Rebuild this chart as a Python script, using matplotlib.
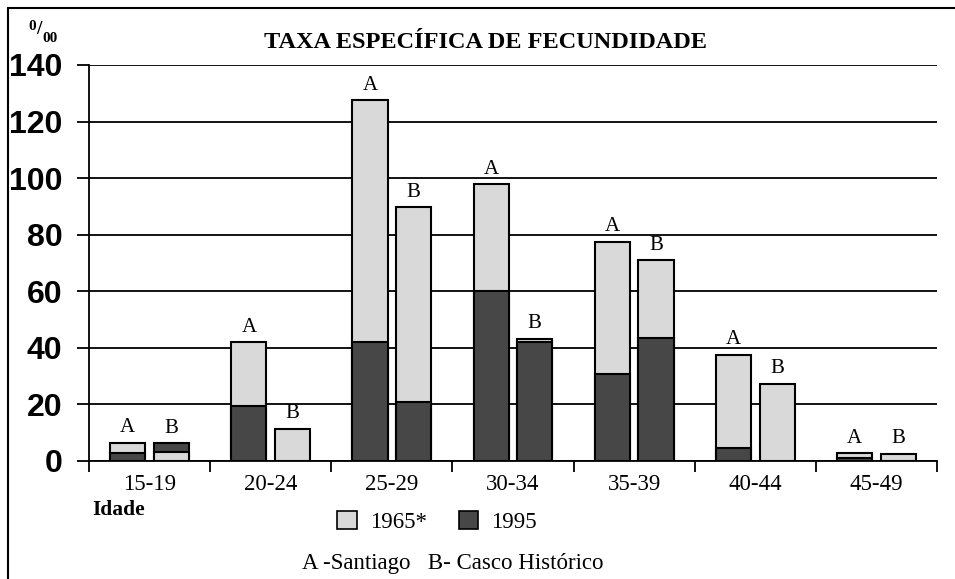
import matplotlib.pyplot as plt
from matplotlib.patches import Patch, Rectangle

# age groups
groups = ['15-19', '20-24', '25-29', '30-34', '35-39', '40-44', '45-49']

# A - Santiago
a_1965 = [6.5, 42, 127.5, 97.8, 77.5, 37.5, 2.8]
a_1995 = [2.9, 19.4, 42, 60, 30.7, 4.5, 1.2]
# B - Casco Historico
b_1965 = [3.3, 11.3, 89.7, 43.2, 71, 27.3, 2.5]
b_1995 = [6.2, 0, 20.8, 41.9, 43.5, 0, 0]

light = '#d9d9d9'
dark = '#474747'
serif = 'Liberation Serif'
sans = 'Liberation Sans'

W, H = 955, 579
fig = plt.figure(figsize=(W / 100, H / 100), dpi=100)
ax = fig.add_axes([89 / W, 1 - 461 / H, 848 / W, 396 / H])

x = range(len(groups))
off = 0.18
bw = 0.29

for site, v65, v95, lab in [(-off, a_1965, a_1995, 'A'), (off, b_1965, b_1995, 'B')]:
    for i in x:
        # taller bar behind, shorter one in front
        z65 = 3 if v65[i] >= v95[i] else 4
        z95 = 7 - z65
        ax.bar(i + site, v65[i], bw, color=light, edgecolor='black', lw=1.5, zorder=z65)
        if v95[i] > 0:
            ax.bar(i + site, v95[i], bw, color=dark, edgecolor='black', lw=1.5, zorder=z95)
        ax.annotate(lab, (i + site, max(v65[i], v95[i])), xytext=(0, 4),
                    textcoords='offset points', ha='center', va='bottom',
                    fontsize=15, family=serif, zorder=6)

ax.set_ylim(0, 140)
ax.set_xlim(-0.5, 6.5)
ax.set_yticks(range(0, 141, 20))
ax.yaxis.grid(True, color='black', lw=1.3, zorder=0)
ax.set_axisbelow(True)
for s in ['top', 'right']:
    ax.spines[s].set_visible(False)
ax.spines['left'].set_linewidth(1.3)
ax.spines['bottom'].set_linewidth(1.3)
ax.tick_params(axis='y', length=9, width=1.3, pad=10, labelsize=23)
for t in ax.get_yticklabels():
    t.set_family(sans)
    t.set_fontweight('bold')

ax.set_xticks([i - 0.5 for i in range(len(groups) + 1)])
ax.set_xticklabels([])
ax.set_xticks(list(x), minor=True)
ax.set_xticklabels(groups, minor=True, family=serif, fontsize=16.5)
ax.tick_params(axis='x', which='major', length=8, width=1.3)
ax.tick_params(axis='x', which='minor', length=0, pad=9)

def px(xp, yp):
    return xp / W, 1 - yp / H

fig.text(*px(485, 42), 'TAXA ESPECÍFICA DE FECUNDIDADE', ha='center', va='center',
         family=serif, fontweight='bold', fontsize=17.5)
fig.text(*px(32, 26), '0', ha='center', va='center', family=serif, fontweight='bold', fontsize=11)
fig.text(*px(39, 30), '/', ha='center', va='center', family=serif, fontweight='bold', fontsize=14)
fig.text(*px(50, 38), '00', ha='center', va='center', family=serif, fontweight='bold', fontsize=11)
fig.text(*px(119, 510), 'Idade', ha='center', va='center', family=serif, fontweight='bold', fontsize=15.5)

handles = [Patch(facecolor=light, edgecolor='black', lw=1.2, label='1965*'),
           Patch(facecolor=dark, edgecolor='black', lw=1.2, label='1995')]
fig.legend(handles=handles, loc='center', bbox_to_anchor=px(437, 522), ncol=2, frameon=False,
           prop={'family': serif, 'size': 16.5}, handlelength=0.86, handleheight=0.86,
           handletextpad=0.55, columnspacing=1.4)
fig.text(*px(453, 564), 'A -Santiago   B- Casco Histórico', ha='center', va='center',
         family=serif, fontsize=16.5)

fig.patches.append(Rectangle((8 / W, -0.1), 1.2, 1 - 8 / H + 0.1, transform=fig.transFigure,
                             fill=False, lw=1.5, edgecolor='black'))

fig.savefig('out.png', dpi=100)
